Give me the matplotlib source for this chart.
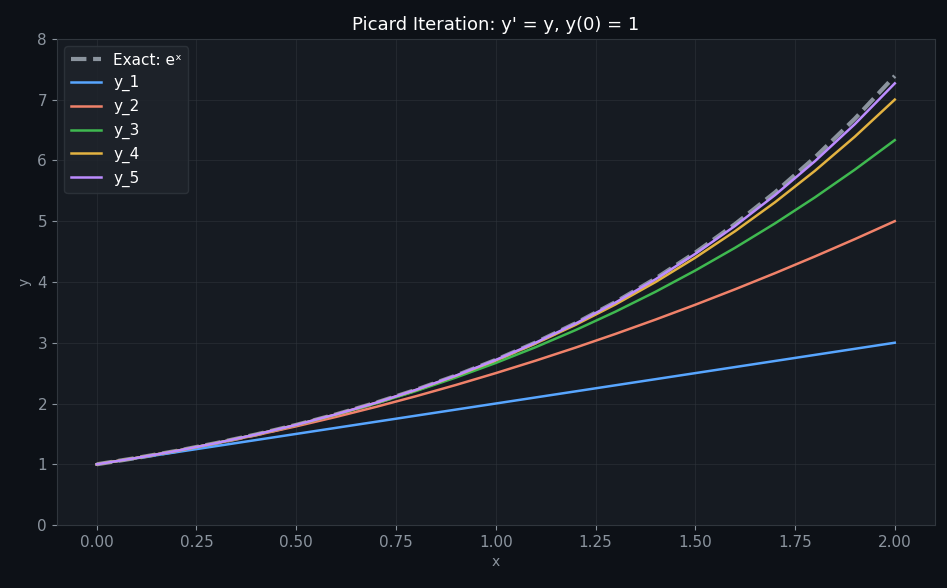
import matplotlib
matplotlib.use("Agg")
import matplotlib.pyplot as plt

x = [0.0, 0.1, 0.2, 0.3, 0.4, 0.5, 0.6, 0.7, 0.8, 0.9, 1.0,
     1.1, 1.2, 1.3, 1.4, 1.5, 1.6, 1.7, 1.8, 1.9, 2.0]
exact = [1, 1.105, 1.221, 1.350, 1.492, 1.649, 1.822, 2.014, 2.226, 2.460, 2.718,
         3.004, 3.320, 3.669, 4.055, 4.482, 4.953, 5.474, 6.050, 6.686, 7.389]
y_1 = [1.0, 1.1, 1.2, 1.3, 1.4, 1.5, 1.6, 1.7, 1.8, 1.9, 2.0,
       2.1, 2.2, 2.3, 2.4, 2.5, 2.6, 2.7, 2.8, 2.9, 3.0]
y_2 = [1, 1.105, 1.22, 1.345, 1.48, 1.625, 1.78, 1.945, 2.12, 2.305, 2.5,
       2.705, 2.92, 3.145, 3.38, 3.625, 3.88, 4.145, 4.42, 4.705, 5.0]
y_3 = [1, 1.105, 1.221, 1.350, 1.491, 1.646, 1.816, 2.002, 2.205, 2.427, 2.667,
       2.927, 3.208, 3.511, 3.837, 4.188, 4.563, 4.964, 5.392, 5.848, 6.333]
y_4 = [1, 1.105, 1.221, 1.350, 1.492, 1.649, 1.821, 2.012, 2.222, 2.454, 2.708,
       2.988, 3.294, 3.630, 3.997, 4.399, 4.836, 5.312, 5.829, 6.391, 7.0]
y_5 = [1, 1.105, 1.221, 1.350, 1.492, 1.649, 1.822, 2.013, 2.225, 2.459, 2.717,
       3.001, 3.315, 3.661, 4.042, 4.462, 4.923, 5.430, 5.987, 6.597, 7.267]

series = [("y_1", y_1, "#58a6ff"), ("y_2", y_2, "#f0826a"), ("y_3", y_3, "#3fb950"),
          ("y_4", y_4, "#e3b341"), ("y_5", y_5, "#bc8cff")]

fig, ax = plt.subplots(figsize=(9.47, 5.88), dpi=100)
fig.patch.set_facecolor("#0d1117")
ax.set_facecolor("#161b22")

ax.plot(x, exact, "--", color="#8b949e", lw=3, label="Exact: eˣ")
for name, ys, color in series:
    ax.plot(x, ys, color=color, lw=1.8, label=name)

ax.set_xlim(-0.1, 2.1)
ax.set_ylim(0, 8)
ax.set_xticks([0, 0.25, 0.5, 0.75, 1.0, 1.25, 1.5, 1.75, 2.0])
ax.grid(color="#30363d", alpha=0.5, lw=0.8)
for s in ax.spines.values():
    s.set_color("#30363d")
ax.tick_params(colors="#8b949e", labelsize=11)
ax.set_xlabel("x", color="#8b949e")
ax.set_ylabel("y", color="#8b949e")
ax.set_title("Picard Iteration: y' = y, y(0) = 1", color="white", fontsize=13)

leg = ax.legend(loc="upper left", facecolor="#1f242b", edgecolor="#30363d", fontsize=11)
for t in leg.get_texts():
    t.set_color("white")

plt.subplots_adjust(left=0.06, right=0.987, top=0.934, bottom=0.107)
plt.savefig("out.png", dpi=100, facecolor=fig.get_facecolor())
